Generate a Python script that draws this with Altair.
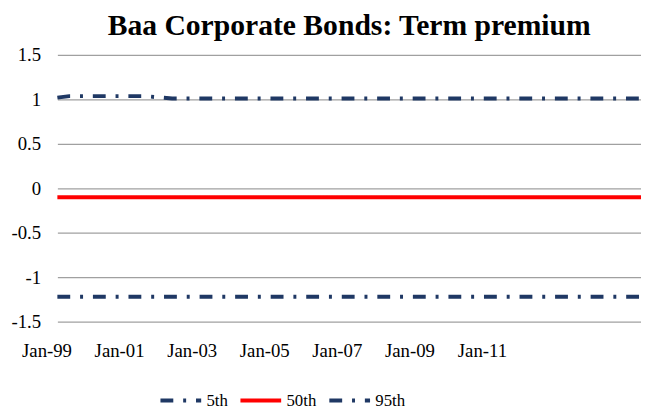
import altair as alt
import pandas as pd

# ---- data ----
series = ["5th", "50th", "95th"]
dates_5 = ["1999-01-01", "2015-02-01"]
vals_5 = [-1.22, -1.22]
dates_50 = ["1999-01-01", "2015-02-01"]
vals_50 = [-0.10, -0.10]
dates_95 = ["1999-01-01", "1999-05-01", "2001-06-01", "2002-03-01", "2015-02-01"]
vals_95 = [1.02, 1.037, 1.037, 1.01, 1.01]
tick_years = [1999, 2001, 2003, 2005, 2007, 2009, 2011]
y_ticks = [-1.5, -1, -0.5, 0, 0.5, 1, 1.5]

rows = []
for name, ds, vs in [("5th", dates_5, vals_5), ("50th", dates_50, vals_50), ("95th", dates_95, vals_95)]:
    for d, v in zip(ds, vs):
        rows.append({"date": d, "value": v, "series": name})
df = pd.DataFrame(rows)

NAVY = "#1F3864"
RED = "#FF0000"
FONT = "Liberation Serif"
dashdot = [13, 10, 3, 10]

legend = alt.Legend(
    title=None, orient="none", legendX=102, legendY=327, direction="horizontal",
    symbolType="stroke", symbolSize=1700, symbolStrokeWidth=4,
    labelFont=FONT, labelFontSize=17, labelColor="black",
    columnPadding=4, labelOffset=3,
)

chart = alt.Chart(df).mark_line(strokeWidth=4, strokeCap="butt").encode(
    x=alt.X(
        "date:T",
        scale=alt.Scale(type="utc", domain=[alt.DateTime(year=1999, month=1, date=1, utc=True),
                                             alt.DateTime(year=2015, month=2, date=1, utc=True)]),
        axis=alt.Axis(
            title=None, grid=False, domain=False, ticks=False, tickSize=0,
            values=[alt.DateTime(year=y, month=1, date=1, utc=True) for y in tick_years],
            labelExpr="utcFormat(datum.value, '%b-%y')",
            labelFont=FONT, labelFontSize=19, labelColor="black",
            labelPadding=20, labelOffset=-11, labelFlush=False, labelOverlap=False,
        ),
    ),
    y=alt.Y(
        "value:Q",
        scale=alt.Scale(domain=[-1.5, 1.5], nice=False, zero=False),
        axis=alt.Axis(
            title=None, values=y_ticks, grid=True, gridColor="#A0A0A0", gridWidth=1.3,
            domain=False, ticks=False, tickSize=0,
            labelExpr="datum.value + ''",
            labelFont=FONT, labelFontSize=19, labelColor="black", labelPadding=17,
        ),
    ),
    color=alt.Color("series:N", scale=alt.Scale(domain=series, range=[NAVY, RED, NAVY]), legend=legend),
    strokeDash=alt.StrokeDash("series:N", scale=alt.Scale(domain=series, range=[dashdot, [1, 0], dashdot]), legend=legend),
).properties(
    width=591,
    height=270,
    title=alt.TitleParams(
        "Baa Corporate Bonds: Term premium", font=FONT, fontSize=30, fontWeight="bold",
        anchor="middle", offset=5, color="black",
    ),
    autosize=alt.AutoSizeParams(type="none"),
    padding={"left": 50, "top": 45, "right": 0, "bottom": 90},
).configure_view(stroke=None)

chart.save("out.html", embed_options={"renderer": "svg", "actions": False})
